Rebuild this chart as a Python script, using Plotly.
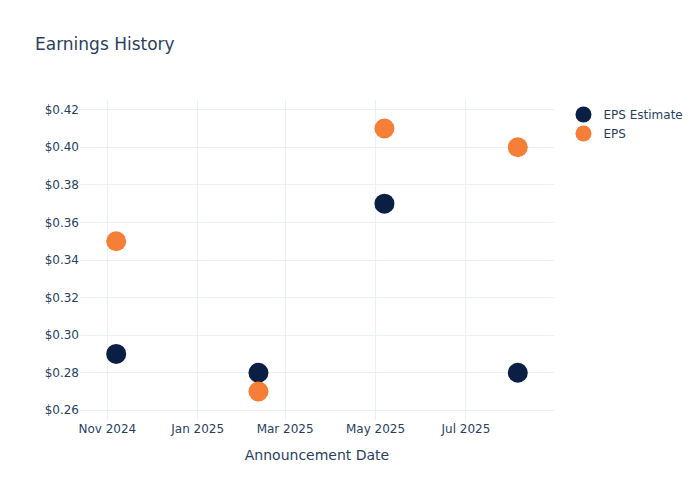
import plotly.graph_objects as go

dates = ["2024-11-07", "2025-02-11", "2025-05-07", "2025-08-05"]
eps_estimate = [0.29, 0.28, 0.37, 0.28]
eps_actual = [0.35, 0.27, 0.41, 0.40]

fig = go.Figure()
fig.add_trace(go.Scatter(x=dates, y=eps_estimate, mode="markers", name="EPS Estimate",
                         marker=dict(color="#0b1f44", size=20)))
fig.add_trace(go.Scatter(x=dates, y=eps_actual, mode="markers", name="EPS",
                         marker=dict(color="#f57f36", size=20)))
fig.update_layout(
    template="plotly_white",
    width=700, height=500,
    font=dict(family="DejaVu Sans"),
    title=dict(text="Earnings History"),
    xaxis=dict(title=dict(text="Announcement Date"), tickformat="%b %Y", dtick="M2"),
    yaxis=dict(tickprefix="$", tickformat=".2f"),
)
fig.write_html("out.html", config={"displayModeBar": False},
               post_script="document.body.style.margin='0';")
